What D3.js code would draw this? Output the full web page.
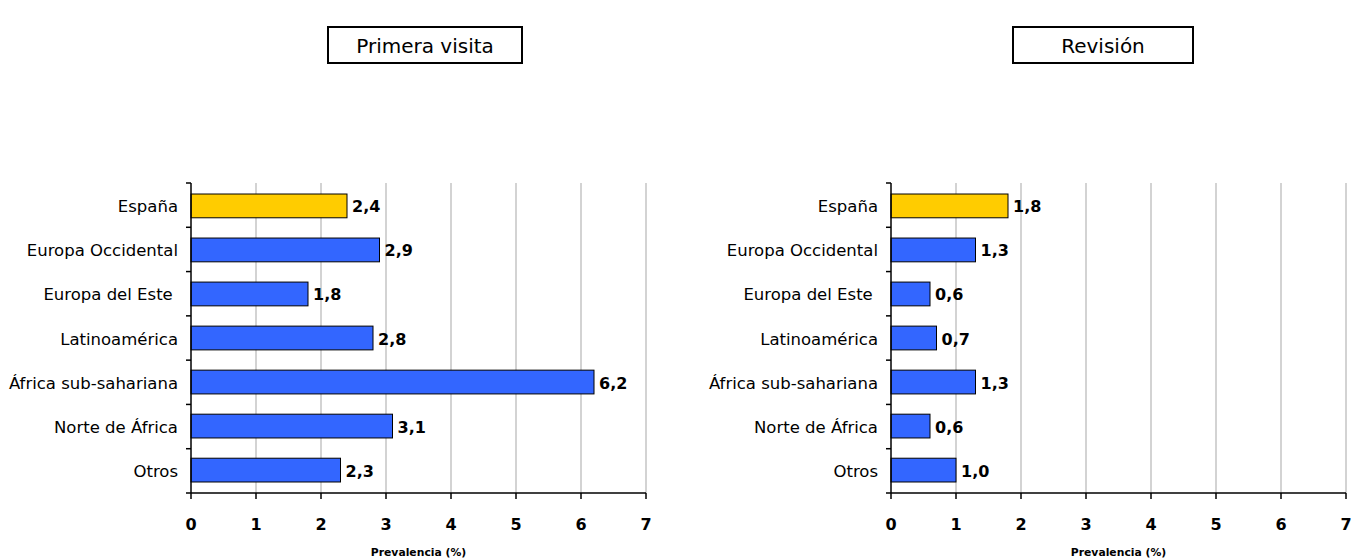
<!DOCTYPE html>
<html>
<head>
<meta charset="utf-8">
<script src="https://cdn.jsdelivr.net/npm/d3@7"></script>
<style>
  body { margin: 0; background: #fff; }
  text { font-family: "DejaVu Sans", sans-serif; fill: #000; }
</style>
</head>
<body>
<div id="chart"></div>
<script>
// categories and values
var categories = ["España", "Europa Occidental", "Europa del Este ", "Latinoamérica",
  "África sub-sahariana", "Norte de África", "Otros"];
var primeraVisita = [2.4, 2.9, 1.8, 2.8, 6.2, 3.1, 2.3];
var revision = [1.8, 1.3, 0.6, 0.7, 1.3, 0.6, 1.0];
var xTicks = [0, 1, 2, 3, 4, 5, 6, 7];
var panelTitles = ["Primera visita", "Revisión"];
var axisTitle = "Prevalencia (%)";

var svg = d3.select("#chart").append("svg")
  .attr("width", 1351)
  .attr("height", 558);

var panels = [
  {title: panelTitles[0], values: primeraVisita, x0: 191, x1: 646, box: [328, 27, 194, 36]},
  {title: panelTitles[1], values: revision, x0: 891, x1: 1346, box: [1013, 27, 180, 36]}
];

var plotTop = 183, plotBottom = 493;

panels.forEach(function(p) {
  var g = svg.append("g");

  var x = d3.scaleLinear().domain([0, 7]).range([p.x0, p.x1]);
  var y = d3.scaleBand().domain(categories).range([plotTop, plotBottom]).paddingInner(0.46).paddingOuter(0.25);

  // title box
  g.append("rect")
    .attr("x", p.box[0]).attr("y", p.box[1])
    .attr("width", p.box[2]).attr("height", p.box[3])
    .attr("fill", "#fff").attr("stroke", "#000").attr("stroke-width", 2);
  g.append("text")
    .attr("x", p.box[0] + p.box[2] / 2).attr("y", p.box[1] + p.box[3] / 2 + 1)
    .attr("text-anchor", "middle").attr("dominant-baseline", "central")
    .attr("font-size", 20)
    .text(p.title);

  // gridlines
  g.selectAll(".grid").data(xTicks.slice(1)).enter().append("line")
    .attr("x1", function(d) { return x(d); }).attr("x2", function(d) { return x(d); })
    .attr("y1", plotTop).attr("y2", plotBottom)
    .attr("stroke", "#c4c4c4").attr("stroke-width", 1.5);

  // bars
  g.selectAll(".bar").data(p.values).enter().append("rect")
    .attr("x", x(0))
    .attr("y", function(d, i) { return y(categories[i]); })
    .attr("width", function(d) { return x(d) - x(0); })
    .attr("height", y.bandwidth())
    .attr("fill", function(d, i) { return i == 0 ? "#FFCC00" : "#3366FF"; })
    .attr("stroke", "#000").attr("stroke-width", 1);

  // value labels
  g.selectAll(".val").data(p.values).enter().append("text")
    .attr("x", function(d) { return x(d) + 5; })
    .attr("y", function(d, i) { return y(categories[i]) + y.bandwidth() / 2 + 1; })
    .attr("dominant-baseline", "central")
    .attr("font-size", 16).attr("font-weight", "bold")
    .text(function(d) { return d.toFixed(1).replace(".", ","); });

  // y axis
  g.append("line")
    .attr("x1", x(0)).attr("x2", x(0)).attr("y1", plotTop).attr("y2", plotBottom)
    .attr("stroke", "#000").attr("stroke-width", 1.5);
  var step = (plotBottom - plotTop) / categories.length;
  g.selectAll(".ytick").data(d3.range(categories.length + 1)).enter().append("line")
    .attr("x1", x(0) - 5).attr("x2", x(0))
    .attr("y1", function(d) { return plotTop + d * step; })
    .attr("y2", function(d) { return plotTop + d * step; })
    .attr("stroke", "#000").attr("stroke-width", 1.5);
  g.selectAll(".cat").data(categories).enter().append("text")
    .attr("x", x(0) - 13)
    .attr("y", function(d) { return y(d) + y.bandwidth() / 2 + 1; })
    .attr("text-anchor", "end").attr("dominant-baseline", "central")
    .attr("font-size", 16.5)
    .style("white-space", "pre")
    .text(function(d) { return d; });

  // x axis
  g.append("line")
    .attr("x1", x(0)).attr("x2", x(7)).attr("y1", plotBottom).attr("y2", plotBottom)
    .attr("stroke", "#000").attr("stroke-width", 1.5);
  g.selectAll(".xtick").data(xTicks).enter().append("line")
    .attr("x1", function(d) { return x(d); }).attr("x2", function(d) { return x(d); })
    .attr("y1", plotBottom).attr("y2", plotBottom + 6)
    .attr("stroke", "#000").attr("stroke-width", 1.5);
  g.selectAll(".xlab").data(xTicks).enter().append("text")
    .attr("x", function(d) { return x(d); })
    .attr("y", 524)
    .attr("text-anchor", "middle").attr("dominant-baseline", "central")
    .attr("font-size", 16).attr("font-weight", "bold")
    .text(function(d) { return d; });

  g.append("text")
    .attr("x", (x(0) + x(7)) / 2).attr("y", 552)
    .attr("text-anchor", "middle").attr("dominant-baseline", "central")
    .attr("font-size", 10.8).attr("font-weight", "bold")
    .text(axisTitle);
});
</script>
</body>
</html>
